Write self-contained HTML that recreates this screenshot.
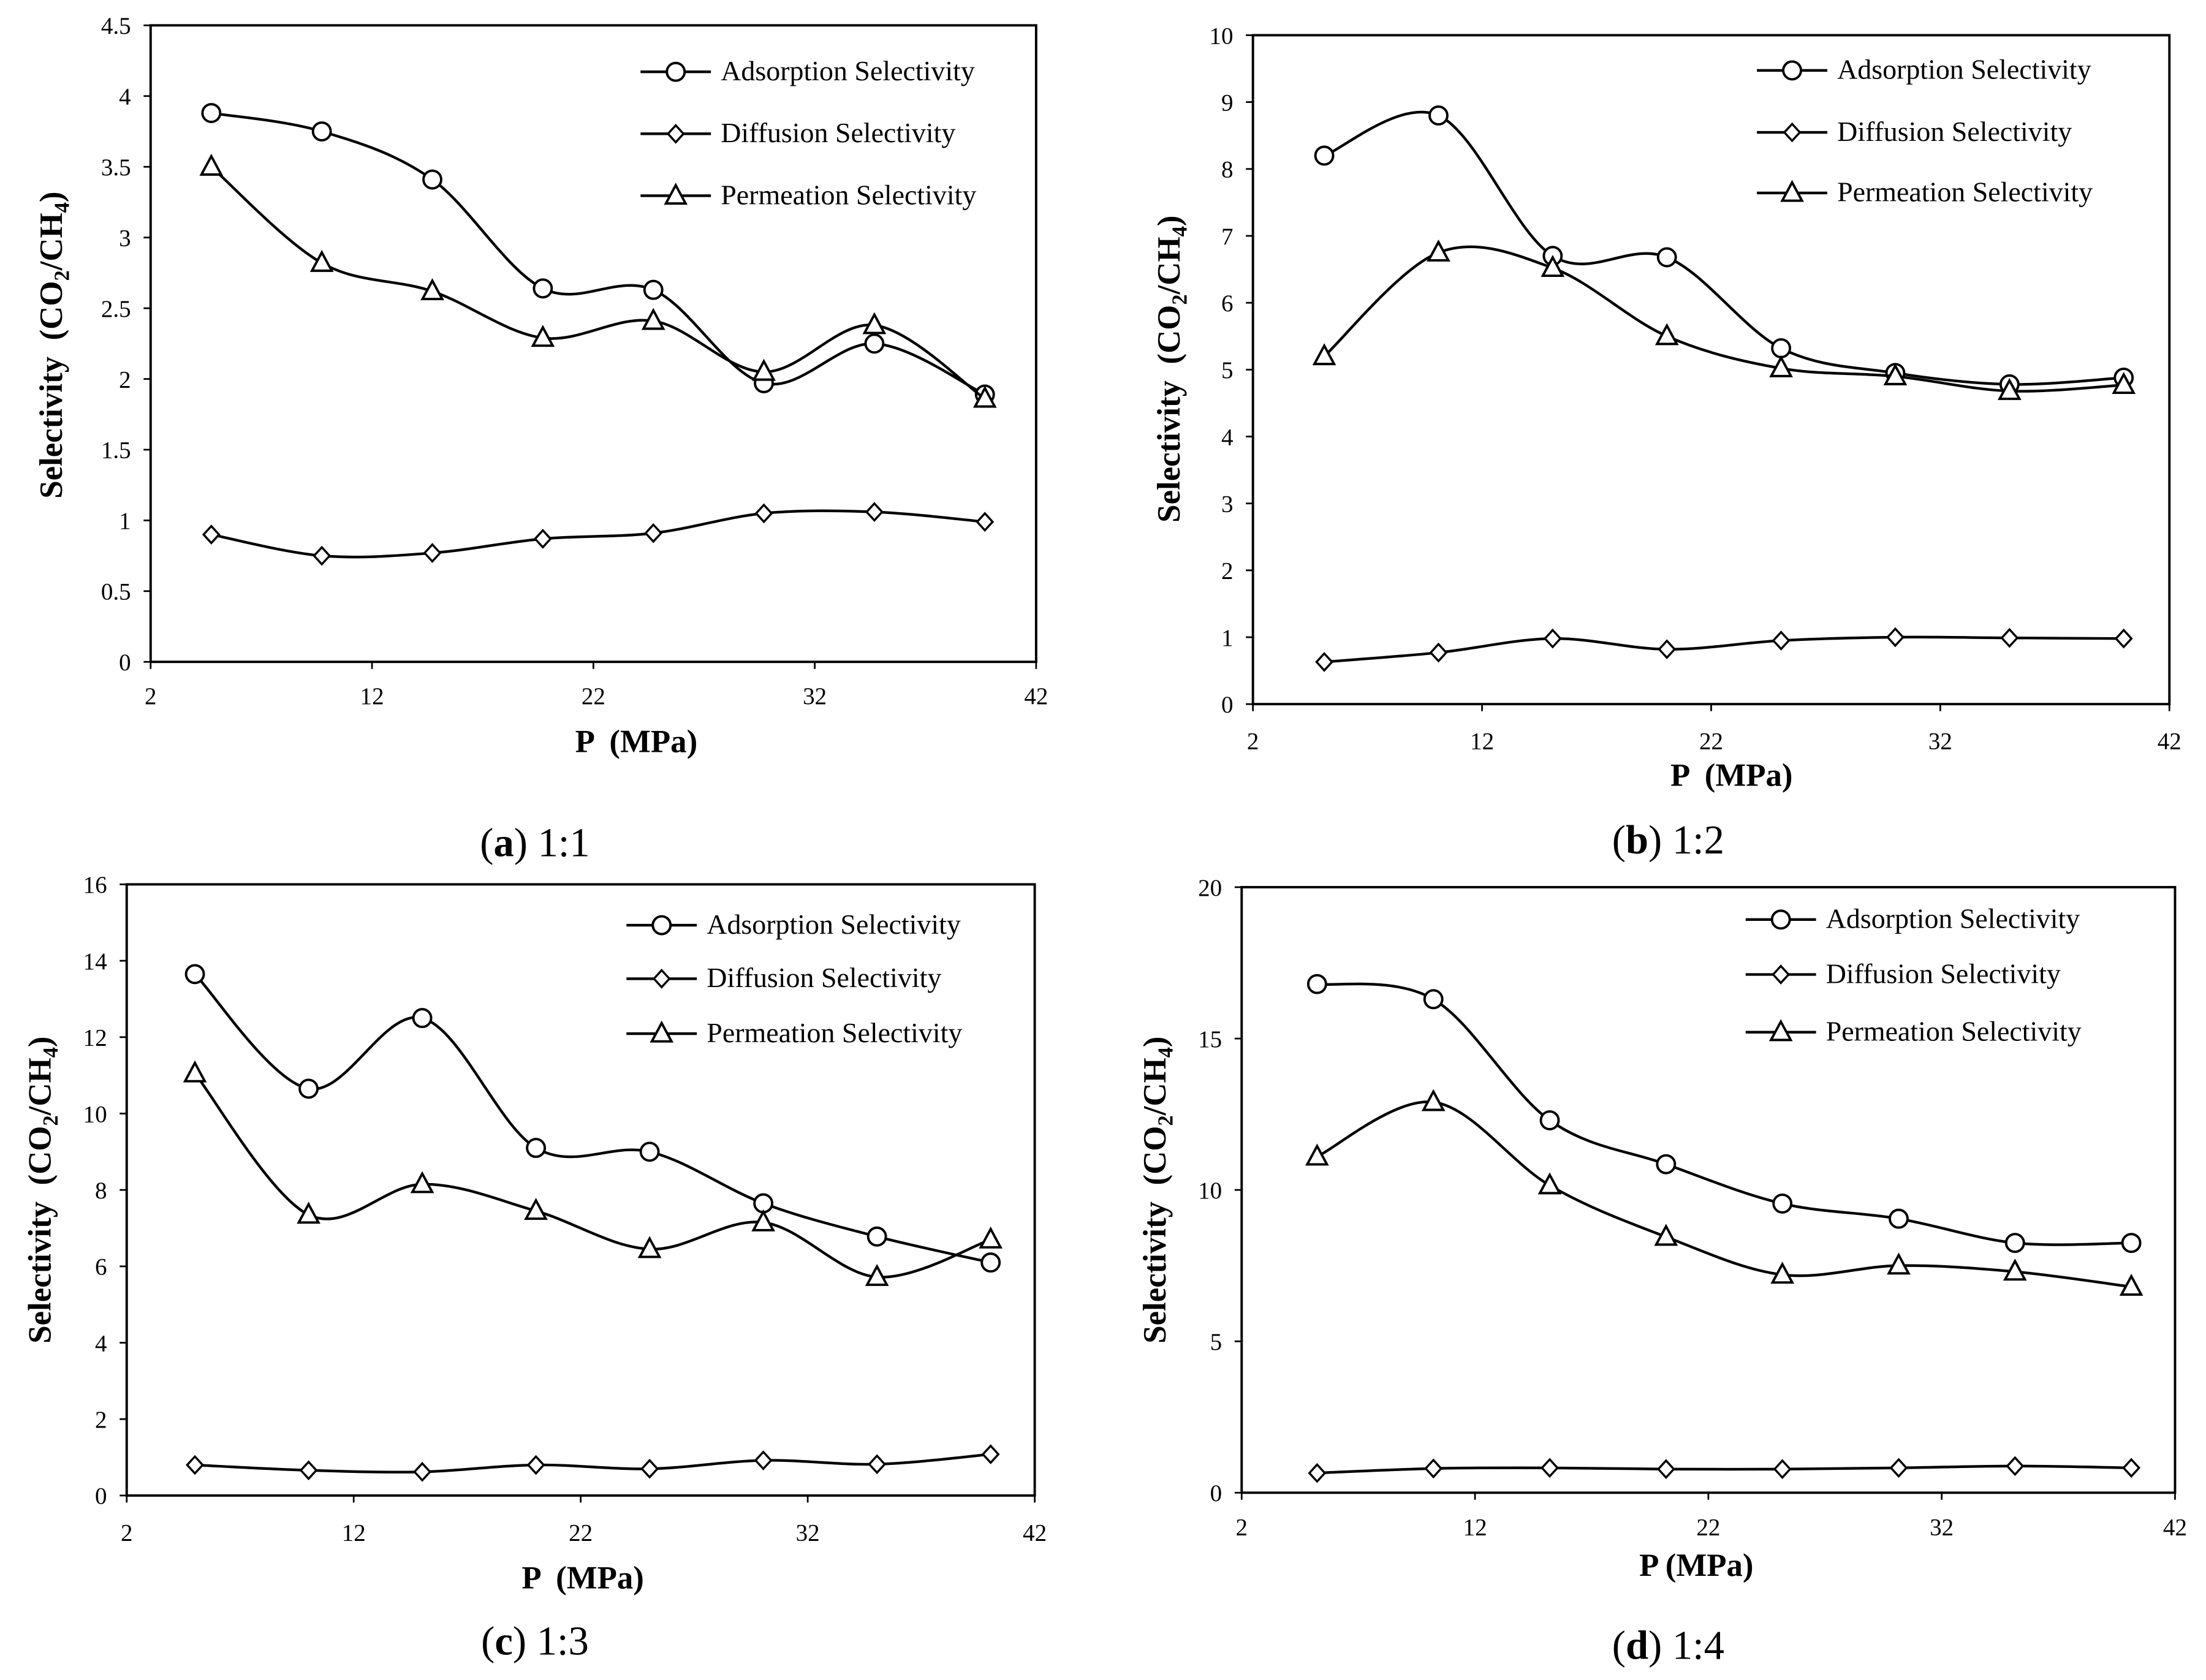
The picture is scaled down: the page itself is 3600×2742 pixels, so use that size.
<!DOCTYPE html>
<html><head><meta charset="utf-8"><style>
html,body{margin:0;padding:0;background:#fff;}
svg{display:block;}
text{font-family:"Liberation Serif",serif;fill:#000;white-space:pre;}
</style></head><body>
<svg id="fig" width="3600" height="2742" viewBox="0 0 1567 1193" preserveAspectRatio="none" xmlns="http://www.w3.org/2000/svg"></svg>
<script>
const xValues = [5,10,15,20,25,30,35,40];
const xTicks = [2,12,22,32,42];
const aAds = [3.88,3.75,3.41,2.64,2.63,1.97,2.25,1.89];
const aDiff = [0.9,0.75,0.77,0.87,0.91,1.05,1.06,0.99];
const aPerm = [3.5,2.82,2.62,2.29,2.41,2.05,2.38,1.86];
const aYTicks = ["0","0.5","1","1.5","2","2.5","3","3.5","4","4.5"];
const bAds = [8.2,8.8,6.7,6.68,5.32,4.95,4.78,4.88];
const bDiff = [0.63,0.77,0.98,0.82,0.95,1.0,0.99,0.98];
const bPerm = [5.2,6.75,6.52,5.5,5.02,4.9,4.68,4.77];
const bYTicks = ["0","1","2","3","4","5","6","7","8","9","10"];
const cAds = [13.65,10.65,12.5,9.1,9.0,7.65,6.78,6.1];
const cDiff = [0.8,0.66,0.62,0.8,0.7,0.92,0.82,1.08];
const cPerm = [11.05,7.35,8.15,7.45,6.45,7.15,5.72,6.7];
const cYTicks = ["0","2","4","6","8","10","12","14","16"];
const dAds = [16.8,16.3,12.3,10.85,9.55,9.05,8.25,8.25];
const dDiff = [0.65,0.8,0.82,0.78,0.78,0.82,0.88,0.82];
const dPerm = [11.1,12.9,10.15,8.45,7.2,7.5,7.3,6.8];
const dYTicks = ["0","5","10","15","20"];
const legendLabels = ["Adsorption Selectivity","Diffusion Selectivity","Permeation Selectivity"];

const NS="http://www.w3.org/2000/svg";
const svg=document.getElementById('fig');
function mk(tag,attrs,parent){const e=document.createElementNS(NS,tag);for(const k in attrs)e.setAttribute(k,attrs[k]);(parent||svg).appendChild(e);return e;}

function smooth(pts){
  let d=`M${pts[0][0]},${pts[0][1]}`;
  for(let i=0;i<pts.length-1;i++){
    const p0=pts[Math.max(0,i-1)],p1=pts[i],p2=pts[i+1],p3=pts[Math.min(pts.length-1,i+2)];
    const t=0.5/3;
    const c1=[p1[0]+(p2[0]-p0[0])*t,p1[1]+(p2[1]-p0[1])*t];
    const c2=[p2[0]-(p3[0]-p1[0])*t,p2[1]-(p3[1]-p1[1])*t];
    d+=` C${c1[0]},${c1[1]} ${c2[0]},${c2[1]} ${p2[0]},${p2[1]}`;
  }
  return d;
}
function marker(g,type,x,y){
  let m;
  if(type==='circle') m=mk('circle',{cx:x,cy:y,r:6.3,fill:'#fff',stroke:'#000','stroke-width':1.7},g);
  else if(type==='diamond') m=mk('polygon',{points:`${x},${y-6} ${x+5.5},${y} ${x},${y+6} ${x-5.5},${y}`,fill:'#fff',stroke:'#000','stroke-width':1.5},g);
  else m=mk('polygon',{points:`${x},${y-7.5} ${x+7},${y+5.5} ${x-7},${y+5.5}`,fill:'#fff',stroke:'#000','stroke-width':1.7},g);
  
  
}

function panel(cfg){
  const g=mk('g',{});
  
  
  const {L,R,T,B,ymax,yTicks}=cfg;
  const sx=v=>cfg.dL+(v-2)/40*(cfg.dR-cfg.dL);
  const tx0=v=>L+(v-2)/40*(R-L);
  const sy=v=>B-v/ymax*(B-T);
  const frame=mk('rect',{x:L,y:T,width:R-L,height:B-T,fill:'none',stroke:'#000','stroke-width':1.7},g);
  
  
  yTicks.forEach(t=>{
    const v=parseFloat(t),y=sy(v);
    mk('line',{x1:L-5,x2:L,y1:y,y2:y,stroke:'#000','stroke-width':1.2},g);
    const tx=mk('text',{x:L-14,y:y+6,'text-anchor':'end','font-size':17,'font-family':'Liberation Serif, serif'},g);
    tx.textContent=t;
    
    
  });
  xTicks.forEach(t=>{
    const x=tx0(t);
    mk('line',{x1:x,x2:x,y1:B,y2:B+5,stroke:'#000','stroke-width':1.2},g);
    const tx=mk('text',{x:x,y:B+cfg.xlab,'text-anchor':'middle','font-size':17,'font-family':'Liberation Serif, serif'},g);
    tx.textContent=t;
    
    
  });
  const xt=mk('text',{x:cfg.xtX,y:cfg.xtY,'text-anchor':'middle','font-size':23,'font-weight':'bold','font-family':'Liberation Serif, serif'},g);
  xt.textContent=cfg.xTitle;
  
  
  const yt=mk('text',{x:0,y:0,'text-anchor':'middle','font-size':23,'font-weight':'bold','font-family':'Liberation Serif, serif',transform:`translate(${cfg.ytX},${cfg.ytY}) rotate(-90)`},g);
  yt.innerHTML='Selectivity  (CO<tspan font-size="15" dy="5">2</tspan><tspan dy="-5">/CH</tspan><tspan font-size="15" dy="5">4</tspan><tspan dy="-5">)</tspan>';
  
  
  const series=[[cfg.ads,'circle','adsorption'],[cfg.diff,'diamond','diffusion'],[cfg.perm,'triangle','permeation']];
  series.forEach(([vals,type,name])=>{
    const sg=mk('g',{},g);
    
    
    const pts=vals.map((v,i)=>[sx(xValues[i]),sy(v)]);
    const p=mk('path',{d:smooth(pts),fill:'none',stroke:'#000','stroke-width':1.9},sg);
    
    
    pts.forEach(pt=>marker(sg,type,pt[0],pt[1]));
  });
  const lg=mk('g',{},g);
  
  
  series.forEach(([v,type,name],i)=>{
    const y=cfg.legY[i];
    const e=mk('g',{},lg);
    
    
    mk('line',{x1:cfg.legX,x2:cfg.legX+50,y1:y,y2:y,stroke:'#000','stroke-width':1.9},e);
    marker(e,type,cfg.legX+25,y);
    const t=mk('text',{x:cfg.legX+57,y:y+6,'font-size':20,'font-family':'Liberation Serif, serif'},e);
    t.textContent=legendLabels[i];
  });
  const cap=mk('text',{x:cfg.capX,y:cfg.capY,'text-anchor':'middle','font-size':29,'font-family':'Liberation Serif, serif'},g);
  cap.innerHTML=`(<tspan font-weight="bold">${cfg.id}</tspan>) ${cfg.ratio}`;
  
  
}

panel({id:'a',ratio:'1:1',L:107,R:736,T:18,B:470,dL:103,dR:731,ymax:4.5,yTicks:aYTicks,ads:aAds,diff:aDiff,perm:aPerm,
  xlab:30,xtX:452,xtY:534,xTitle:'P  (MPa)',ytX:44,ytY:245,legX:455,legY:[51,95,139],capX:380,capY:608});
panel({id:'b',ratio:'1:2',L:890,R:1541,T:25,B:500,dL:892,dR:1541,ymax:10,yTicks:bYTicks,ads:bAds,diff:bDiff,perm:bPerm,
  xlab:32,xtX:1230,xtY:558,xTitle:'P  (MPa)',ytX:838,ytY:262,legX:1248,legY:[50,94,137],capX:1185,capY:606});
panel({id:'c',ratio:'1:3',L:90,R:735,T:628,B:1062,dL:90,dR:736,ymax:16,yTicks:cYTicks,ads:cAds,diff:cDiff,perm:cPerm,
  xlab:32,xtX:414,xtY:1128,xTitle:'P  (MPa)',ytX:36,ytY:845,legX:445,legY:[657,695,734],capX:380,capY:1175});
panel({id:'d',ratio:'1:4',L:882,R:1545,T:630,B:1060,dL:886,dR:1547,ymax:20,yTicks:dYTicks,ads:dAds,diff:dDiff,perm:dPerm,
  xlab:30,xtX:1205,xtY:1119,xTitle:'P (MPa)',ytX:828,ytY:845,legX:1240,legY:[653,692,733],capX:1185,capY:1178});
</script>
</body></html>
